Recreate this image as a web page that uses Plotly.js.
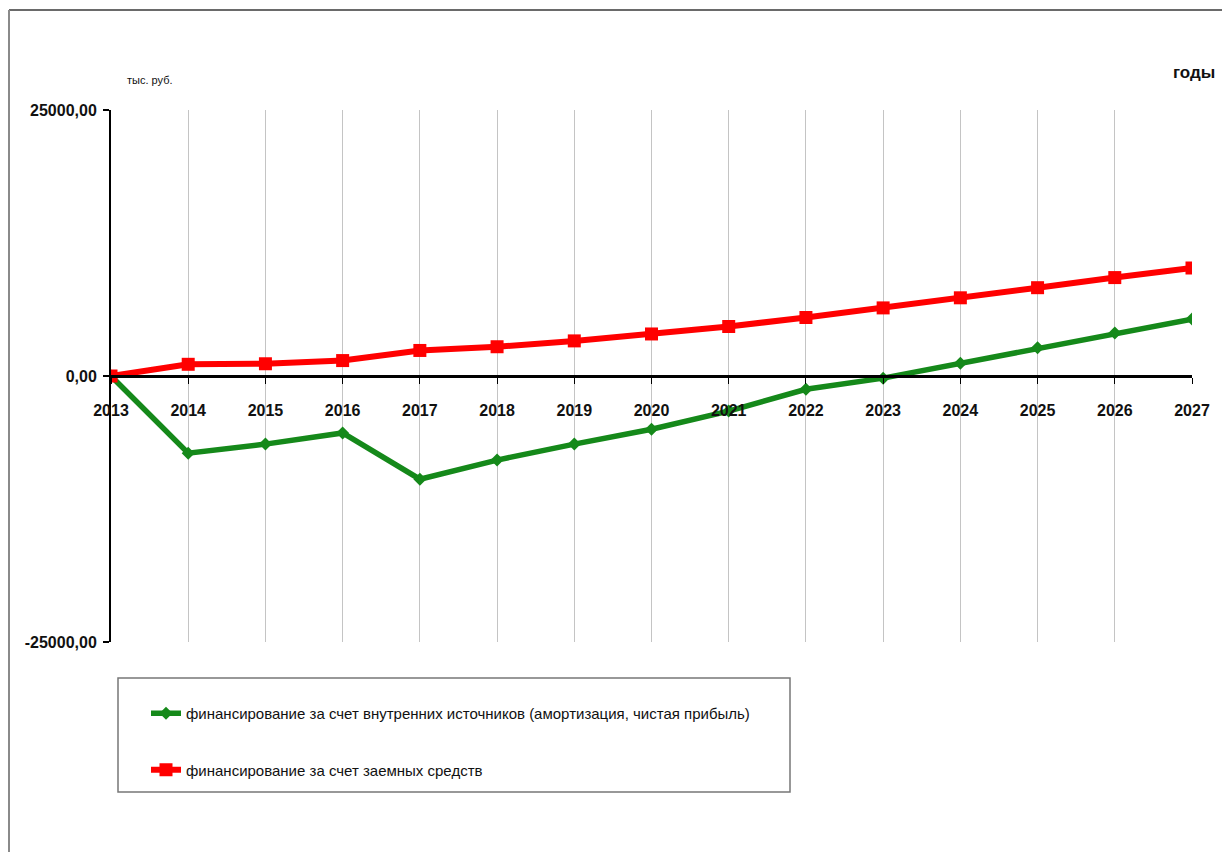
<!DOCTYPE html>
<html>
<head>
<meta charset="utf-8">
<script src="https://cdn.plot.ly/plotly-3.0.1.min.js"></script>
<style>
html,body{margin:0;padding:0;background:#fff;}
#chart{width:1222px;height:852px;}
</style>
</head>
<body>
<div id="chart"></div>
<script>
// ---- data ----
const years = [2013, 2014, 2015, 2016, 2017, 2018, 2019, 2020, 2021, 2022, 2023, 2024, 2025, 2026, 2027];
const internalFunding = [0, -7250, -6400, -5350, -9700, -7900, -6400, -5000, -3300, -1250, -200, 1200, 2650, 4050, 5350];
const borrowedFunding = [0, 1100, 1150, 1450, 2400, 2750, 3300, 3950, 4650, 5500, 6400, 7350, 8300, 9250, 10150];
const seriesNames = [
  "финансирование за счет внутренних источников (амортизация, чистая прибыль)",
  "финансирование за счет заемных средств"
];
const yTickValues = [-25000, 0, 25000];
const yTickLabels = ["-25000,00", "0,00", "25000,00"];
const yUnitLabel = "тыс. руб.";
const xUnitLabel = "годы";

const FONT = "'Liberation Sans Narrow', 'Liberation Sans', Arial, sans-serif";
const f = (size, weight) => ({family: FONT, size: size, weight: weight || "normal", stretch: "condensed", color: "#111"});

const traces = [
  {
    x: years, y: internalFunding, name: seriesNames[0], type: "scatter", mode: "lines+markers",
    line: {color: "#15891a", width: 5.5},
    marker: {symbol: "diamond", size: 10, color: "#15891a"},
    legendgroup: "a"
  },
  {
    x: years, y: borrowedFunding, name: seriesNames[1], type: "scatter", mode: "lines+markers",
    line: {color: "#ff0000", width: 6},
    marker: {symbol: "square", size: 13, color: "#ff0000"},
    legendgroup: "b"
  }
];

const L = 111, T = 110, W = 1081, H = 532;
const px = v => (v - L) / W;
const py = v => (T + H - v) / H;

const layout = {
  width: 1222, height: 852,
  margin: {l: L, r: 1222 - L - W, t: T, b: 852 - T - H},
  paper_bgcolor: "#ffffff", plot_bgcolor: "#ffffff",
  font: f(14),
  showlegend: true,
  legend: {
    x: px(146), y: py(697), xanchor: "left", yanchor: "top",
    bgcolor: "rgba(0,0,0,0)", borderwidth: 0,
    font: f(15),
    traceorder: "grouped", tracegroupgap: 34
  },
  xaxis: {
    range: [2013, 2027],
    anchor: "free", position: 0.5,
    tickvals: years, ticktext: years.map(String),
    showgrid: true, gridcolor: "#c4c4c4", gridwidth: 1,
    showline: true, linecolor: "#000", linewidth: 3,
    ticks: "outside", ticklen: 6, tickcolor: "#000", tickwidth: 1,
    ticklabelstandoff: 13,
    tickfont: f(16, "bold"),
    zeroline: false, fixedrange: true
  },
  yaxis: {
    range: [-25000, 25000],
    tickvals: yTickValues, ticktext: yTickLabels,
    showgrid: false, zeroline: false,
    showline: true, linecolor: "#000", linewidth: 2,
    ticks: "outside", ticklen: 6, tickcolor: "#000", tickwidth: 2,
    ticklabelstandoff: 3,
    tickfont: f(16, "bold"),
    fixedrange: true
  },
  annotations: [
    {text: yUnitLabel, xref: "paper", yref: "paper", x: px(150), y: py(80), showarrow: false,
     xanchor: "center", yanchor: "middle", font: f(11)},
    {text: xUnitLabel, xref: "paper", yref: "paper", x: px(1217), y: py(72), showarrow: false,
     xanchor: "right", yanchor: "middle", font: f(17, "bold")}
  ],
  shapes: [
    {type: "rect", xref: "paper", yref: "paper", x0: px(118), x1: px(790), y0: py(792), y1: py(678),
     line: {color: "#777", width: 1.5}, fillcolor: "rgba(0,0,0,0)", layer: "below"},
    {type: "line", xref: "paper", yref: "paper", x0: px(9), x1: px(1222), y0: py(10), y1: py(10),
     line: {color: "#6a6a6a", width: 2}},
    {type: "line", xref: "paper", yref: "paper", x0: px(9), x1: px(9), y0: py(10), y1: py(852),
     line: {color: "#8a8a8a", width: 2}}
  ]
};

Plotly.newPlot("chart", traces, layout, {displayModeBar: false, staticPlot: true});
</script>
</body>
</html>
